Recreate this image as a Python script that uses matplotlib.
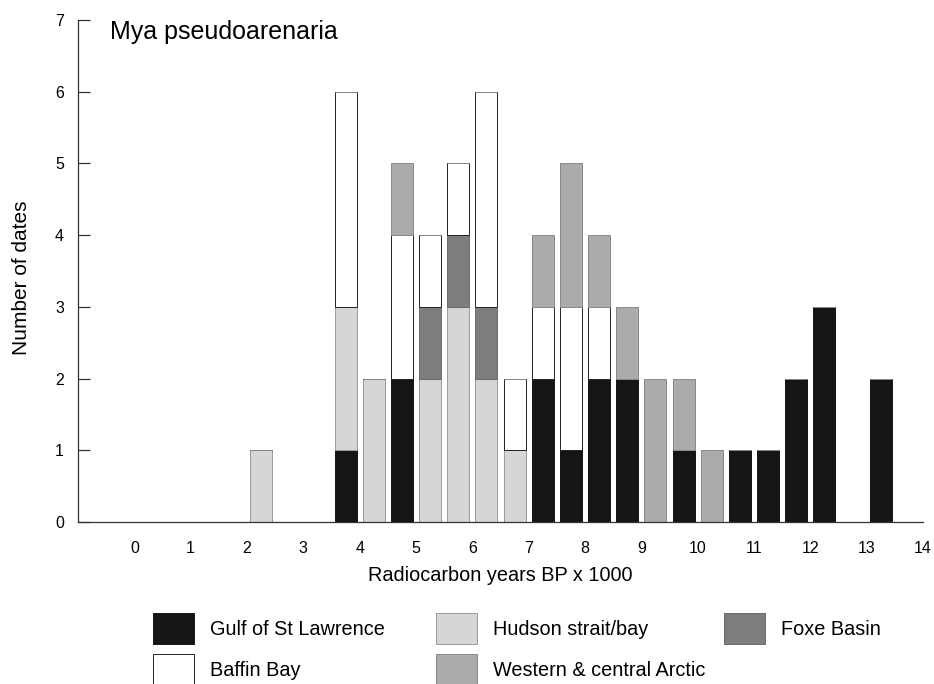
import numpy as np
import matplotlib
matplotlib.use('Agg')
import matplotlib.pyplot as plt
from matplotlib.patches import Patch

# bin centres (ka BP), 0.5 ka bins
edades = [2.25, 3.75, 4.25, 4.75, 5.25, 5.75, 6.25, 6.75, 7.25, 7.75,
          8.25, 8.75, 9.25, 9.75, 10.25, 10.75, 11.25, 11.75, 12.25, 13.25]

gulf    = [0, 1, 0, 2, 0, 0, 0, 0, 2, 1, 2, 2, 0, 1, 0, 1, 1, 2, 3, 2]
hudson  = [1, 2, 2, 0, 2, 3, 2, 1, 0, 0, 0, 0, 0, 0, 0, 0, 0, 0, 0, 0]
foxe    = [0, 0, 0, 0, 1, 1, 1, 0, 0, 0, 0, 0, 0, 0, 0, 0, 0, 0, 0, 0]
baffin  = [0, 3, 0, 2, 1, 1, 3, 1, 1, 2, 1, 0, 0, 0, 0, 0, 0, 0, 0, 0]
western = [0, 0, 0, 1, 0, 0, 0, 0, 1, 2, 1, 1, 2, 1, 1, 0, 0, 0, 0, 0]

regioes = ['Gulf of St Lawrence', 'Hudson strait/bay', 'Foxe Basin',
           'Baffin Bay', 'Western & central Arctic']
series = [gulf, hudson, foxe, baffin, western]
cores = ['#151515', '#d6d6d6', '#7d7d7d', 'white', '#ababab']
bordas = ['#151515', '#9a9a9a', '#6a6a6a', '#222222', '#8a8a8a']

plt.rcParams['font.family'] = ['Liberation Sans', 'DejaVu Sans']

fig = plt.figure(figsize=(9.34, 6.84), dpi=100)
ax = fig.add_axes([78 / 934, 162 / 684, 845 / 934, 502 / 684])

base = np.zeros(len(edades))
for vals, nome, cor, borda in zip(series, regioes, cores, bordas):
    vals = np.array(vals, dtype=float)
    ax.bar(edades, vals, width=0.39, bottom=base, color=cor,
           edgecolor=borda, linewidth=0.7, label=nome)
    base += vals

ax.set_xlim(-1, 14)
ax.set_ylim(0, 7)
ax.set_xticks(range(0, 15))
ax.set_yticks(range(0, 8))

for lado in ['top', 'right']:
    ax.spines[lado].set_visible(False)
ax.spines['left'].set_color('#333333')
ax.spines['bottom'].set_color('#333333')
ax.spines['left'].set_linewidth(0.9)
ax.spines['bottom'].set_linewidth(0.9)

ax.tick_params(axis='y', direction='in', length=8.5, width=0.9,
               labelsize=11.5, pad=10, color='#333333')
ax.tick_params(axis='x', length=0, labelsize=11.5, pad=14)

ax.set_xlabel('Radiocarbon years BP x 1000', fontsize=14.3, labelpad=7)
fig.text(22 / 934, 1 - 278 / 684, 'Number of dates', rotation=90,
         ha='center', va='center', fontsize=15)
fig.text(110 / 934, 1 - 32 / 684, 'Mya pseudoarenaria', ha='left',
         va='center', fontsize=18)

# legend: three hand-placed columns
colunas = [[0, 3], [1, 4], [2]]
col_x = [153, 436, 724]
for idx, x0 in zip(colunas, col_x):
    handles = [Patch(facecolor=cores[i], edgecolor=bordas[i], linewidth=0.7)
               for i in idx]
    labels = [regioes[i] for i in idx]
    fig.legend(handles, labels, loc='upper left',
               bbox_to_anchor=(x0 / 934, 1 - 613 / 684), frameon=False,
               fontsize=14.3, handlelength=2.06, handleheight=2.02,
               handletextpad=0.8, labelspacing=0.5,
               borderpad=0, borderaxespad=0)

fig.savefig('out.png', dpi=100)
